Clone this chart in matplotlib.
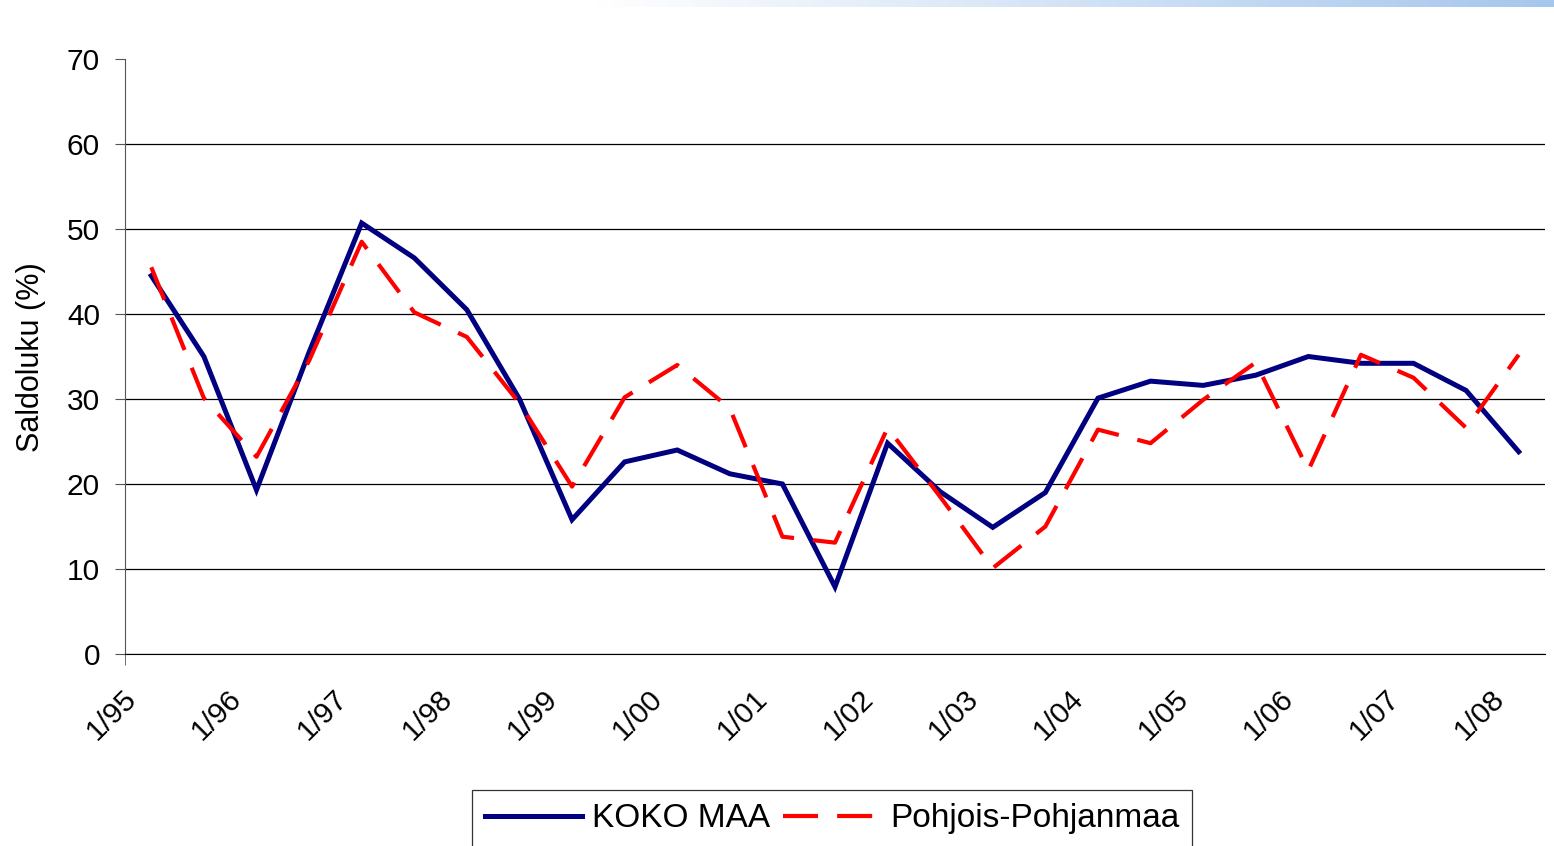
import matplotlib
matplotlib.use('Agg')
import matplotlib.pyplot as plt
import matplotlib.transforms as mtransforms
import numpy as np

plt.rcParams['font.family'] = ['Liberation Sans', 'DejaVu Sans']

# puolivuosittaiset havainnot 1/95 ... 1/08
tick_labels = ['1/95', '1/96', '1/97', '1/98', '1/99', '1/00', '1/01',
               '1/02', '1/03', '1/04', '1/05', '1/06', '1/07', '1/08']
koko_maa = [44.5, 35.0, 19.3, 35.5, 50.7, 46.6, 40.5, 30.0, 15.8, 22.6,
            24.0, 21.2, 20.0, 7.9, 24.8, 19.1, 14.9, 19.0, 30.1, 32.1,
            31.6, 32.8, 35.0, 34.2, 34.2, 31.0, 23.8]
pohjois_pohjanmaa = [45.5, 30.1, 23.2, 34.5, 48.5, 40.2, 37.3, 29.5, 19.7, 30.2,
                     34.0, 28.9, 13.8, 13.1, 26.6, 18.5, 10.1, 15.0, 26.4, 24.8,
                     29.9, 34.3, 21.6, 35.2, 32.5, 26.6, 35.2]

x = np.arange(len(koko_maa))

fig = plt.figure(figsize=(15.54, 8.46), dpi=100)
ax = fig.add_axes([125/1554, 1-654/846, 1420/1554, 595/846])

ax.plot(x, koko_maa, color='#000080', lw=3.6, solid_joinstyle='miter',
        label='KOKO MAA', zorder=3)
ax.plot(x, pohjois_pohjanmaa, color='#ff0000', lw=3.0, dashes=(8.4, 4.6),
        label='Pohjois-Pohjanmaa', zorder=4)

ax.set_xlim(-0.5, 26.5)
ax.set_ylim(0, 70)
ax.set_yticks(np.arange(0, 71, 10))
ax.grid(axis='y', color='black', linewidth=0.9)
ax.set_axisbelow(True)
ax.get_ygridlines()[-1].set_visible(False)

for s in ['top', 'right']:
    ax.spines[s].set_visible(False)
ax.spines['left'].set_color('#555555')
ax.spines['bottom'].set_color('black')

ax.set_xticks(x[::2])
ax.set_xticklabels(tick_labels, rotation=45, ha='right', fontsize=21.5)
ax.set_xticks([-0.5], minor=True)
ax.tick_params(axis='x', which='major', length=0, pad=22)
ax.tick_params(axis='x', which='minor', length=8, direction='out', color='#555555')
ax.tick_params(axis='y', length=7, color='#555555', labelsize=21.5, pad=11)

offset = mtransforms.ScaledTranslation(-9/100, 0, fig.dpi_scale_trans)
for lab in ax.get_xticklabels():
    lab.set_transform(lab.get_transform() + offset)

fig.text(31/1554, 1-357/846, 'Saldoluku (%)', rotation=90, ha='center',
         va='center', fontsize=22)

leg = ax.legend(loc='upper center', bbox_to_anchor=(832/1554, 1-790/846),
                bbox_transform=fig.transFigure, ncol=2, fontsize=24,
                frameon=True, fancybox=False, edgecolor='black',
                handlelength=2.9, handletextpad=0.3, columnspacing=0.4,
                borderpad=0.4, borderaxespad=0)
leg.get_frame().set_linewidth(0.9)

# vaaleansininen liukuvari ylareunassa
gax = fig.add_axes([0, 1-7/846, 1, 7/846])
grad = np.zeros((1, 256, 4))
grad[..., 0] = 0.65
grad[..., 1] = 0.78
grad[..., 2] = 0.93
grad[..., 3] = np.clip((np.linspace(0, 1, 256) - 0.38) / 0.62, 0, 1)
gax.imshow(grad, aspect='auto', extent=[0, 1, 0, 1])
gax.axis('off')

fig.savefig('out.png', dpi=100)
